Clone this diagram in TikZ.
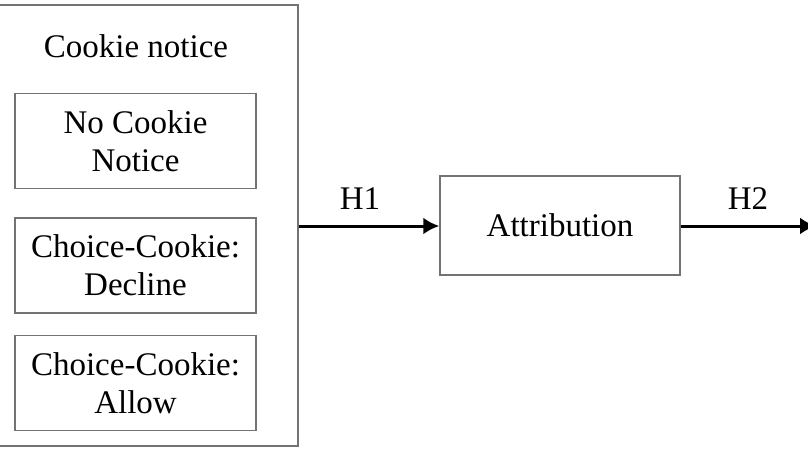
\documentclass[tikz,border=0pt]{standalone}
\usepackage{fontspec}
\setmainfont{Liberation Serif}
\usetikzlibrary{arrows.meta}
\begin{document}
\begin{tikzpicture}[x=1pt,y=-1pt,
  box/.style={draw=black!55,line width=1.5pt,inner sep=0pt},
  lbl/.style={font=\fontsize{33}{38}\selectfont,align=center,inner sep=0pt},
  arr/.style={line width=3pt,-{Latex[length=16pt,width=17pt]}}]
\clip (0,0) rectangle (808,455);
\useasboundingbox (0,0) rectangle (808,455);
\node[box,minimum width=305pt,minimum height=441pt] (outer) at (145.5,225.5) {};
\node[lbl] (title) at (136,46) {Cookie notice};
\node[box,minimum width=241pt,minimum height=95pt] (b1) at (135.5,141) {};
\node[lbl] (t1) at (b1.center) {No Cookie\\Notice};
\node[box,minimum width=241pt,minimum height=95pt] (b2) at (135.5,265.5) {};
\node[lbl] (t2) at (b2.center) {Choice-Cookie:\\Decline};
\node[box,minimum width=241pt,minimum height=95pt] (b3) at (135.5,383) {};
\node[lbl] (t3) at (b3.center) {Choice-Cookie:\\Allow};
\node[box,minimum width=240pt,minimum height=99pt] (attr) at (560,225.5) {};
\node[lbl] (ta) at (attr.center) {Attribution};
\coordinate (end) at (816,226);
\draw[arr] (outer.east |- 0,226) -- (attr.west |- 0,226);
\node[lbl] (h1) at (360,199) {H1};
\draw[arr] (attr.east |- 0,226) -- (end);
\node[lbl] (h2) at (748,199) {H2};
\end{tikzpicture}
\end{document}
